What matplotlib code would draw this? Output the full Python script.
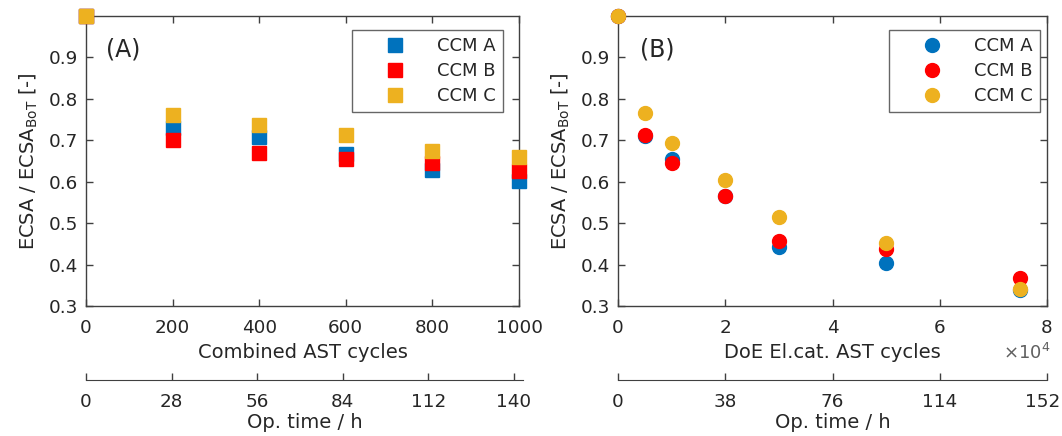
import numpy as np
import matplotlib
matplotlib.use('Agg')
import matplotlib.pyplot as plt
from matplotlib.transforms import ScaledTranslation

# data
cycles_a = [0, 200, 400, 600, 800, 1000]
ccm_a_a = [1.0, 0.729, 0.709, 0.667, 0.628, 0.602]
ccm_b_a = [1.0, 0.700, 0.670, 0.654, 0.646, 0.627]
ccm_c_a = [1.0, 0.761, 0.737, 0.713, 0.675, 0.659]

cycles_b = [0, 5000, 10000, 20000, 30000, 50000, 75000]
ccm_a_b = [1.0, 0.710, 0.656, 0.565, 0.442, 0.405, 0.339]
ccm_b_b = [1.0, 0.713, 0.644, 0.565, 0.458, 0.437, 0.367]
ccm_c_b = [1.0, 0.765, 0.694, 0.603, 0.516, 0.453, 0.342]

labels = ['CCM A', 'CCM B', 'CCM C']
colors = ['#0072BD', '#FF0000', '#EDB120']

hours_a = [0, 28, 56, 84, 112, 140]
hours_b = [0, 38, 76, 114, 152]

txt = '#262626'
spine = '#404040'
fs = 14
tfs = 13.2

plt.rcParams['font.family'] = 'DejaVu Sans'
plt.rcParams['font.size'] = fs
plt.rcParams['text.color'] = txt
plt.rcParams['axes.labelcolor'] = txt
plt.rcParams['xtick.color'] = spine
plt.rcParams['ytick.color'] = spine
plt.rcParams['xtick.labelcolor'] = txt
plt.rcParams['ytick.labelcolor'] = txt

fig = plt.figure(figsize=(10.62, 4.36), dpi=100)

W, H = 1062.0, 436.0


def px_axes(l, r, top, bot):
    return fig.add_axes([l / W, 1 - bot / H, (r - l) / W, (bot - top) / H])


def style_main(ax):
    for s in ax.spines.values():
        s.set_color(spine)
        s.set_linewidth(1.0)
    ax.tick_params(direction='in', top=True, right=True, length=5, width=1, labelsize=tfs)
    ax.tick_params(axis='x', pad=9)
    ax.tick_params(axis='y', pad=6)
    ax.set_ylim(0.3, 1.0)
    ax.set_yticks([0.3, 0.4, 0.5, 0.6, 0.7, 0.8, 0.9])
    ax.set_ylabel('ECSA / ECSA$_{\\mathrm{BoT}}$ [-]', fontsize=fs, labelpad=6)


def second_axis(l, r, y, xmax, ticks):
    ax2 = fig.add_axes([l / W, 1 - y / H, (r - l) / W, 0.0001])
    for k in ['top', 'left', 'right']:
        ax2.spines[k].set_visible(False)
    ax2.spines['bottom'].set_color(spine)
    ax2.set_facecolor('none')
    ax2.set_yticks([])
    ax2.set_xlim(0, xmax)
    ax2.set_xticks(ticks)
    ax2.tick_params(axis='x', direction='in', length=5, width=1, pad=9, labelsize=tfs)
    ax2.set_xlabel('Op. time / h', fontsize=fs, labelpad=2)
    return ax2


def add_legend(ax, anchor):
    leg = ax.legend(loc='upper right', bbox_to_anchor=anchor, bbox_transform=fig.transFigure,
                    fontsize=13, frameon=True, fancybox=False, edgecolor=spine,
                    handlelength=4.0, handletextpad=0.3, labelspacing=0.38,
                    borderpad=0.4, borderaxespad=0, numpoints=1)
    leg.get_frame().set_linewidth(1.0)


# panel A
axA = px_axes(86, 519, 16, 306)
for y, c, lab in zip([ccm_a_a, ccm_b_a, ccm_c_a], colors, labels):
    axA.plot(cycles_a, y, 's', color=c, markersize=10, label=lab, clip_on=False, zorder=3)
axA.set_xlim(0, 1000)
axA.set_xticks([0, 200, 400, 600, 800, 1000])
style_main(axA)
axA.set_xlabel('Combined AST cycles', fontsize=fs, labelpad=5)
axA.text(0.046, 0.885, '(A)', transform=axA.transAxes, fontsize=17, va='center', ha='left')
add_legend(axA, (503 / W, 1 - 30 / H))

second_axis(86, 523, 380, 143, hours_a)

# panel B
axB = px_axes(618, 1047, 16, 306)
for y, c, lab in zip([ccm_a_b, ccm_b_b, ccm_c_b], colors, labels):
    axB.plot(np.array(cycles_b) / 1e4, y, 'o', color=c, markersize=10, label=lab, clip_on=False, zorder=3)
axB.set_xlim(0, 8)
axB.set_xticks([0, 2, 4, 6, 8])
style_main(axB)
axB.set_xlabel('DoE El.cat. AST cycles', fontsize=fs, labelpad=5)
axB.text(0.051, 0.885, '(B)', transform=axB.transAxes, fontsize=17, va='center', ha='left')
add_legend(axB, (1040 / W, 1 - 30 / H))
fig.text(1027 / W, 1 - 353 / H, '$\\times\\mathdefault{10^4}$', fontsize=13, ha='center', va='center', color='#606060')

axB2 = second_axis(618, 1047, 380, 152, hours_b)
# keep the last label inside the canvas
fig.canvas.draw()
last = axB2.get_xticklabels()[-1]
last.set_transform(last.get_transform() + ScaledTranslation(-4 / 100, 0, fig.dpi_scale_trans))

fig.savefig('out.png', dpi=100)
